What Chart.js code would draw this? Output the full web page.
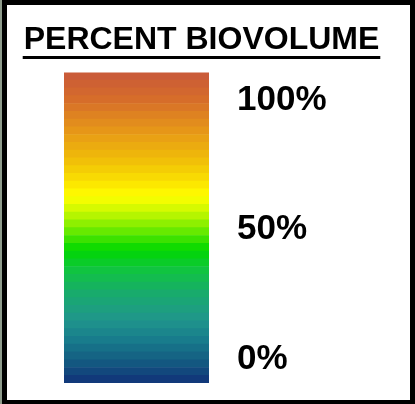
<!DOCTYPE html>
<html>
<head>
<meta charset="utf-8">
<script src="https://cdn.jsdelivr.net/npm/chart.js@4/dist/chart.umd.min.js"></script>
<style>
  html, body { margin: 0; padding: 0; }
  body { width: 415px; height: 404px; background: #000; position: relative; overflow: hidden; }
  #edge { position: absolute; left: 0; top: 0; width: 2px; height: 404px; background: #8f9c8c; }
  #panel { position: absolute; left: 7px; top: 5px; width: 403px; height: 395px; background: #fff; }
  #wrap { position: absolute; left: 0; top: 0; width: 403px; height: 404px; }
</style>
</head>
<body>
<div id="edge"></div>
<div id="panel"></div>
<div id="wrap"><canvas id="c" width="403" height="404"></canvas></div>
<script>
// ---- data ----
const titleText = 'PERCENT BIOVOLUME';
const categories = [''];
// colour bands (percent), 40 bands of 3 units, from -10 to 110
const bandLow = [-10, -7, -4, -1, 2, 5, 8, 11, 14, 17,
                 20, 23, 26, 29, 32, 35, 38, 41, 44, 47,
                 50, 53, 56, 59, 62, 65, 68, 71, 74, 77,
                 80, 83, 86, 89, 92, 95, 98, 101, 104, 107];
const bandHigh = [-7, -4, -1, 2, 5, 8, 11, 14, 17, 20,
                  23, 26, 29, 32, 35, 38, 41, 44, 47, 50,
                  53, 56, 59, 62, 65, 68, 71, 74, 77, 80,
                  83, 86, 89, 92, 95, 98, 101, 104, 107, 110];
const tickValues = [0, 50, 100];
const tickLabels = ['0%', '50%', '100%'];

// ---- colour ramp (style) ----
const colorStops = [
  [-10, [16, 50, 120]],
  [-1, [20, 94, 130]],
  [6.6, [24, 124, 140]],
  [14.3, [32, 150, 140]],
  [24, [24, 170, 110]],
  [33.6, [16, 196, 64]],
  [41.3, [0, 216, 0]],
  [49, [110, 235, 0]],
  [56, [200, 248, 0]],
  [61.8, [255, 255, 0]],
  [66.4, [252, 232, 0]],
  [76, [240, 190, 8]],
  [87.6, [230, 150, 24]],
  [99.2, [214, 110, 42]],
  [110, [200, 88, 58]]
];
function rampColor(v) {
  for (let i = 0; i < colorStops.length - 1; i++) {
    const [a, ca] = colorStops[i], [b, cb] = colorStops[i + 1];
    if (v >= a && v <= b) {
      const t = (v - a) / (b - a);
      const c = ca.map((x, k) => Math.round(x + (cb[k] - x) * t));
      return 'rgb(' + c.join(',') + ')';
    }
  }
  return 'rgb(200,88,58)';
}

const datasets = bandLow.map((lo, i) => ({
  data: [[lo, bandHigh[i]]],
  yAxisID: 'yL',
  backgroundColor: rampColor((lo + bandHigh[i]) / 2),
  borderWidth: 0,
  borderSkipped: false,
  barPercentage: 1,
  categoryPercentage: 1
}));

const FONT = '"Liberation Sans", Arial, sans-serif';

const underline = {
  id: 'underline',
  afterDraw(chart) {
    const t = chart.titleBlock;
    if (!t) return;
    const ctx = chart.ctx;
    ctx.save();
    ctx.font = 'bold 32px ' + FONT;
    const w = ctx.measureText(titleText).width;
    const cx = (t.left + t.right) / 2;
    ctx.strokeStyle = '#000';
    ctx.lineWidth = 3;
    ctx.beginPath();
    ctx.moveTo(cx - w / 2 - 1, 57.5);
    ctx.lineTo(cx + w / 2 + 1, 57.5);
    ctx.stroke();
    ctx.restore();
  }
};

new Chart(document.getElementById('c'), {
  type: 'bar',
  data: { labels: categories, datasets },
  plugins: [underline],
  options: {
    responsive: false,
    animation: false,
    layout: { padding: { left: 0, right: 0, top: 5, bottom: 21 } },
    plugins: {
      legend: { display: false },
      tooltip: { enabled: false },
      title: {
        display: true,
        text: titleText,
        color: '#000',
        font: { family: FONT, size: 32, weight: 'bold' },
        padding: { top: 16, bottom: 13 }
      }
    },
    scales: {
      x: { stacked: true, display: false },
      yL: {
        position: 'left',
        min: -10,
        max: 110,
        grid: { display: false, drawTicks: false },
        border: { display: false },
        ticks: { display: false },
        afterFit(scale) { scale.width = 64; scale.paddingTop = 0; scale.paddingBottom = 0; }
      },
      y: {
        position: 'right',
        min: -9.2,
        max: 110.8,
        grid: { display: false, drawTicks: false },
        border: { display: false },
        afterBuildTicks(scale) { scale.ticks = tickValues.map(v => ({ value: v })); },
        afterFit(scale) { scale.width = 194; scale.paddingTop = 0; scale.paddingBottom = 0; },
        ticks: {
          padding: 28,
          color: '#000',
          font: { family: FONT, size: 35, weight: 'bold' },
          callback: (v) => tickLabels[tickValues.indexOf(v)]
        }
      }
    }
  }
});
</script>
</body>
</html>
